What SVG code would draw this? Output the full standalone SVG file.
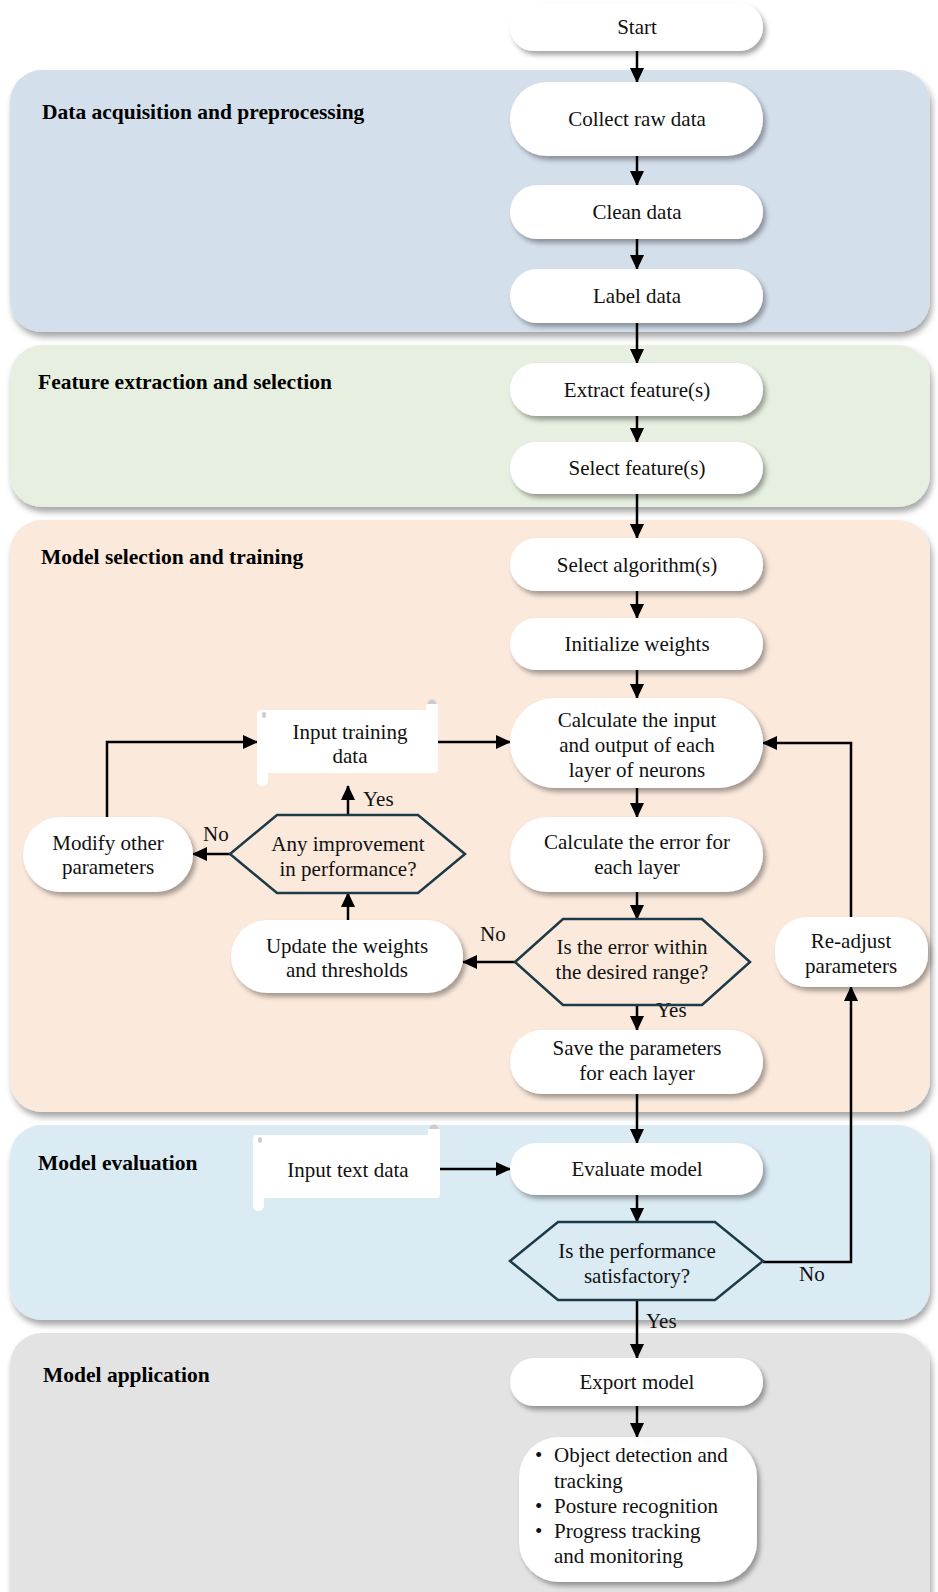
<svg xmlns="http://www.w3.org/2000/svg" width="938" height="1592" viewBox="0 0 938 1592">
<defs>
<filter id="sh" x="-20%" y="-20%" width="140%" height="150%">
<feDropShadow dx="3" dy="4" stdDeviation="2.5" flood-color="#000" flood-opacity="0.35"/>
</filter>
<filter id="shs" x="-10%" y="-10%" width="120%" height="130%">
<feDropShadow dx="2" dy="5" stdDeviation="3" flood-color="#000" flood-opacity="0.35"/>
</filter>
<marker id="ah" markerUnits="userSpaceOnUse" markerWidth="16" markerHeight="14" refX="14" refY="7" orient="auto">
<path d="M0,0 L15,7 L0,14 Z" fill="#000"/>
</marker>
<style>
.t{font-family:"Liberation Serif","Times New Roman",serif;font-size:21px;fill:#111;text-anchor:middle}
.tl{font-family:"Liberation Serif","Times New Roman",serif;font-size:21px;fill:#111}
.h{font-family:"Liberation Serif","Times New Roman",serif;font-size:21.5px;font-weight:bold;fill:#000}
.n{fill:#fff;filter:url(#sh)}
.hex{stroke:#1c3a48;stroke-width:2.5;fill:none;stroke-linejoin:miter}
.c{stroke:#000;stroke-width:2.5;fill:none}
.ca{stroke:#000;stroke-width:2.5;fill:none;marker-end:url(#ah)}
</style>
</defs>
<rect width="938" height="1592" fill="#fff"/>

<g id="sections">
<rect x="10" y="70" width="920" height="262" rx="32" fill="#d4dfec" filter="url(#shs)"/>
<rect x="10" y="345" width="920" height="162" rx="32" fill="#e7f0e0" filter="url(#shs)"/>
<rect x="10" y="520" width="920" height="592" rx="32" fill="#fbe9dc" filter="url(#shs)"/>
<rect x="10" y="1125" width="920" height="195" rx="32" fill="#dbebf3" filter="url(#shs)"/>
<rect x="10" y="1333" width="920" height="300" rx="32" fill="#e3e3e3" filter="url(#shs)"/>
<text class="h" x="42" y="119">Data acquisition and preprocessing</text>
<text class="h" x="38" y="389">Feature extraction and selection</text>
<text class="h" x="41" y="564">Model selection and training</text>
<text class="h" x="38" y="1170">Model evaluation</text>
<text class="h" x="43" y="1382">Model application</text>
</g>

<g id="connectors">
<line class="ca" x1="637" y1="51" x2="637" y2="82"/>
<line class="ca" x1="637" y1="156" x2="637" y2="185"/>
<line class="ca" x1="637" y1="239" x2="637" y2="269"/>
<line class="ca" x1="637" y1="323" x2="637" y2="363"/>
<line class="ca" x1="637" y1="416" x2="637" y2="442"/>
<line class="ca" x1="637" y1="494" x2="637" y2="538"/>
<line class="ca" x1="637" y1="591" x2="637" y2="618"/>
<line class="ca" x1="637" y1="670" x2="637" y2="698"/>
<line class="ca" x1="637" y1="788" x2="637" y2="817"/>
<line class="ca" x1="637" y1="892" x2="637" y2="919"/>
<line class="ca" x1="637" y1="1005" x2="637" y2="1030"/>
<line class="ca" x1="637" y1="1094" x2="637" y2="1143"/>
<line class="ca" x1="637" y1="1195" x2="637" y2="1222"/>
<line class="ca" x1="637" y1="1300" x2="637" y2="1358"/>
<line class="ca" x1="637" y1="1406" x2="637" y2="1437"/>
<line class="ca" x1="438" y1="742" x2="510" y2="742"/>
<line class="ca" x1="440" y1="1169" x2="510" y2="1169"/>
<polyline class="ca" points="763,1262 851,1262 851,987"/>
<polyline class="ca" points="851,917 851,743 763,743"/>
<line class="ca" x1="515" y1="962" x2="463" y2="962"/>
<line class="ca" x1="348" y1="920" x2="348" y2="893"/>
<line class="ca" x1="348" y1="815" x2="348" y2="786"/>
<line class="ca" x1="230" y1="854" x2="193" y2="854"/>
<polyline class="ca" points="107,817 107,742 257,742"/>
<text class="tl" x="656" y="1017">Yes</text>
<text class="tl" x="646" y="1328">Yes</text>
<text class="tl" x="363" y="806">Yes</text>
<text class="tl" x="203" y="841">No</text>
<text class="tl" x="480" y="941">No</text>
<text class="tl" x="799" y="1281">No</text>
</g>

<g id="n-start"><rect class="n" x="510" y="3" width="253" height="48" rx="24"/><text class="t" x="637" y="34">Start</text></g>
<g id="n-collect"><rect class="n" x="510" y="82" width="253" height="74" rx="37"/><text class="t" x="637" y="126">Collect raw data</text></g>
<g id="n-clean"><rect class="n" x="510" y="185" width="253" height="54" rx="27"/><text class="t" x="637" y="219">Clean data</text></g>
<g id="n-label"><rect class="n" x="510" y="269" width="253" height="54" rx="27"/><text class="t" x="637" y="303">Label data</text></g>
<g id="n-extract"><rect class="n" x="510" y="363" width="253" height="53" rx="26.5"/><text class="t" x="637" y="397">Extract feature(s)</text></g>
<g id="n-selectf"><rect class="n" x="510" y="442" width="253" height="52" rx="26"/><text class="t" x="637" y="475">Select feature(s)</text></g>
<g id="n-selecta"><rect class="n" x="510" y="538" width="253" height="53" rx="26.5"/><text class="t" x="637" y="572">Select algorithm(s)</text></g>
<g id="n-init"><rect class="n" x="510" y="618" width="253" height="52" rx="26"/><text class="t" x="637" y="651">Initialize weights</text></g>
<g id="n-calcin"><rect class="n" x="510" y="698" width="253" height="90" rx="45"/><text class="t" x="637" y="727">Calculate the input</text><text class="t" x="637" y="752">and output of each</text><text class="t" x="637" y="777">layer of neurons</text></g>
<g id="n-calcerr"><rect class="n" x="510" y="817" width="253" height="75" rx="37.5"/><text class="t" x="637" y="849">Calculate the error for</text><text class="t" x="637" y="874">each layer</text></g>
<g id="n-errrange"><polygon class="hex" points="515,962 563,919 702,919 750,962 702,1005 563,1005"/><text class="t" x="632" y="954">Is the error within</text><text class="t" x="632" y="979">the desired range?</text></g>
<g id="n-save"><rect class="n" x="510" y="1030" width="253" height="64" rx="32"/><text class="t" x="637" y="1055">Save the parameters</text><text class="t" x="637" y="1080">for each layer</text></g>
<g id="n-readjust"><rect class="n" x="775" y="917" width="153" height="70" rx="32"/><text class="t" x="851" y="948">Re-adjust</text><text class="t" x="851" y="973">parameters</text></g>
<g id="n-update"><rect class="n" x="231" y="920" width="232" height="73" rx="36.5"/><text class="t" x="347" y="953">Update the weights</text><text class="t" x="347" y="977">and thresholds</text></g>
<g id="n-improve"><polygon class="hex" points="230,854 277,815 418,815 465,854 418,893 277,893"/><text class="t" x="348" y="851">Any improvement</text><text class="t" x="348" y="876">in performance?</text></g>
<g id="n-modify"><rect class="n" x="23" y="817" width="170" height="75" rx="37.5"/><text class="t" x="108" y="850">Modify other</text><text class="t" x="108" y="874">parameters</text></g>
<g id="n-inputtrain">
<rect x="257" y="710" width="181" height="63" rx="4" fill="#fff"/>
<rect x="257" y="760" width="11" height="26" rx="5.5" fill="#fff"/>
<circle cx="432" cy="704" r="4.5" fill="#ccc"/>
<rect x="426" y="704" width="12" height="8" fill="#fff"/>
<ellipse cx="264" cy="715" rx="2" ry="3" fill="#ccc"/>
<text class="t" x="350" y="739">Input training</text><text class="t" x="350" y="763">data</text></g>
<g id="n-inputtext">
<rect x="253" y="1135" width="187" height="63" rx="4" fill="#fff"/>
<rect x="253" y="1185" width="11" height="26" rx="5.5" fill="#fff"/>
<circle cx="434" cy="1129" r="4.5" fill="#ccc"/>
<rect x="428" y="1129" width="12" height="8" fill="#fff"/>
<ellipse cx="260" cy="1140" rx="2" ry="3" fill="#ccc"/>
<text class="t" x="348" y="1177">Input text data</text></g>
<g id="n-evaluate"><rect class="n" x="510" y="1143" width="253" height="52" rx="26"/><text class="t" x="637" y="1176">Evaluate model</text></g>
<g id="n-perf"><polygon class="hex" points="510,1261 558,1222 715,1222 763,1261 715,1300 558,1300"/><text class="t" x="637" y="1258">Is the performance</text><text class="t" x="637" y="1283">satisfactory?</text></g>
<g id="n-export"><rect class="n" x="510" y="1358" width="253" height="48" rx="24"/><text class="t" x="637" y="1389">Export model</text></g>
<g id="n-apps"><rect class="n" x="519" y="1437" width="238" height="145" rx="40"/>
<text class="tl" x="535" y="1462">•</text><text class="tl" x="554" y="1462">Object detection and</text>
<text class="tl" x="554" y="1488">tracking</text>
<text class="tl" x="535" y="1513">•</text><text class="tl" x="554" y="1513">Posture recognition</text>
<text class="tl" x="535" y="1538">•</text><text class="tl" x="554" y="1538">Progress tracking</text>
<text class="tl" x="554" y="1563">and monitoring</text></g>
</svg>
